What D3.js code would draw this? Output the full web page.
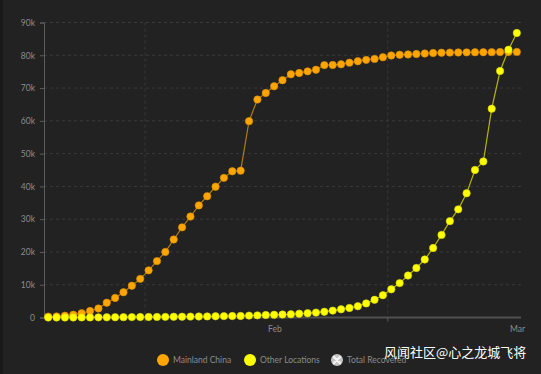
<!DOCTYPE html>
<html>
<head>
<meta charset="utf-8">
<script src="https://cdn.jsdelivr.net/npm/d3@7"></script>
<style>
  body { margin: 0; background: #222; }
  svg { display: block; }
</style>
</head>
<body>
<svg width="541" height="374"></svg>
<script>
// daily cumulative counts, 20 Jan 2020 .. 16 Mar 2020
const firstDay = new Date(Date.UTC(2020, 0, 20, 10));

const mainlandChina = [
  280, 330, 550, 830, 1290, 1980, 2740, 4520, 5970, 7710,
  9690, 11790, 14380, 17200, 20000, 23800, 27500, 30800, 34200, 37000,
  39900, 42600, 44600, 44800, 59900, 66500, 68500, 70550, 72400, 74200,
  74600, 75100, 75600, 77000, 77050, 77250, 77750, 78200, 78600, 78900,
  79400, 79930, 80140, 80260, 80390, 80540, 80690, 80770, 80820, 80860,
  80890, 80920, 80930, 80950, 80980, 81000, 81030
];

const otherLocations = [
  5, 7, 9, 15, 25, 35, 50, 60, 80, 100,
  120, 140, 160, 180, 200, 220, 250, 280, 300, 330,
  380, 420, 450, 480, 580, 660, 750, 820, 900, 980,
  1150, 1300, 1500, 1750, 2100, 2500, 2900, 3450, 4300, 5400,
  6800, 8600, 10500, 12800, 15100, 17700, 21200, 25200, 29400, 33000,
  37900, 45000, 47600, 63700, 75200, 81700, 86800
];

const yTicks = [0, 10000, 20000, 30000, 40000, 50000, 60000, 70000, 80000, 90000];
const monthStarts = [new Date(Date.UTC(2020, 1, 1)), new Date(Date.UTC(2020, 2, 1))];
const monthLabels = ["Feb", "Mar"];
const legendItems = ["Mainland China", "Other Locations", "Total Recovered"];

const dates = mainlandChina.map((_, i) => d3.utcDay.offset(firstDay, i));

const svg = d3.select("svg");
const font = "Lato, 'Noto Sans', sans-serif";

// left dark edge of the panel
svg.append("rect").attr("x", 0).attr("y", 0).attr("width", 3).attr("height", 374).attr("fill", "#181818");

const x = d3.scaleUtc()
  .domain([d3.utcHour.offset(dates[0], -12), d3.utcHour.offset(dates[dates.length - 1], 12)])
  .range([44, 521]);

const y = d3.scaleLinear().domain([0, 90000]).range([317.5, 22.5]);

// grid
svg.append("g").selectAll("line")
  .data(yTicks.slice(1))
  .join("line")
  .attr("x1", 44).attr("x2", 521)
  .attr("y1", d => y(d)).attr("y2", d => y(d))
  .attr("stroke", "#3a3a3a").attr("stroke-dasharray", "3,3");

svg.append("g").selectAll("line")
  .data(monthStarts)
  .join("line")
  .attr("x1", d => x(d)).attr("x2", d => x(d))
  .attr("y1", y(90000)).attr("y2", y(0))
  .attr("stroke", "#3a3a3a").attr("stroke-dasharray", "3,3");

// y axis
const yAxis = svg.append("g")
  .attr("transform", "translate(44,0)")
  .call(d3.axisLeft(y).tickValues(yTicks).tickSize(4).tickPadding(5)
    .tickFormat(d => d ? d / 1000 + "k" : "0"));
yAxis.select(".domain").attr("stroke", "#5c5c5c");
yAxis.selectAll(".tick line").attr("stroke", "#5c5c5c");
yAxis.selectAll("text").attr("fill", "#8c8c8c").attr("font-size", 8.5).attr("font-family", font);

// x axis
svg.append("line")
  .attr("x1", 44).attr("x2", 521).attr("y1", y(0)).attr("y2", y(0))
  .attr("stroke", "#505050").attr("stroke-width", 1.8);

svg.append("g").selectAll("line")
  .data(monthStarts)
  .join("line")
  .attr("x1", d => x(d)).attr("x2", d => x(d))
  .attr("y1", y(0)).attr("y2", y(0) + 4)
  .attr("stroke", "#5c5c5c");

svg.append("g").selectAll("text")
  .data(monthStarts)
  .join("text")
  .attr("x", d => x(d3.utcHour.offset(d, 372)))
  .attr("y", 332)
  .attr("text-anchor", "middle")
  .attr("fill", "#8c8c8c").attr("font-size", 8.5).attr("font-family", font)
  .text((d, i) => monthLabels[i]);

// series
const series = [
  { values: mainlandChina, line: "#b07c12", fill: "#ffa500", stroke: "#d98c00" },
  { values: otherLocations, line: "#b9b400", fill: "#ffff00", stroke: "#d4d400" }
];

const line = d3.line().x((d, i) => x(dates[i])).y(d => y(d));

series.forEach(s => {
  svg.append("path")
    .datum(s.values)
    .attr("d", line)
    .attr("fill", "none")
    .attr("stroke", s.line)
    .attr("stroke-width", 1.2);
  svg.append("g").selectAll("circle")
    .data(s.values)
    .join("circle")
    .attr("cx", (d, i) => x(dates[i]))
    .attr("cy", d => y(d))
    .attr("r", 3.7)
    .attr("fill", s.fill)
    .attr("stroke", s.stroke)
    .attr("stroke-width", 0.6);
});

// legend
const legendX = [163, 250, 337];
const legend = svg.append("g").selectAll("g")
  .data(legendItems)
  .join("g")
  .attr("transform", (d, i) => `translate(${legendX[i]},360)`);

legend.append("circle")
  .attr("r", 6)
  .attr("fill", (d, i) => ["#ffa500", "#ffff00", "#c4c4c4"][i]);

legend.filter((d, i) => i === 2).append("path")
  .attr("d", "M-3,-3L3,3M3,-3L-3,3")
  .attr("stroke", "#f4f4f4").attr("stroke-width", 2.2).attr("stroke-linecap", "round");

legend.append("text")
  .attr("x", 10)
  .attr("y", 3)
  .attr("fill", "#8c8c8c").attr("font-size", 8.5).attr("font-family", font)
  .text(d => d);

// watermark
svg.append("text")
  .attr("x", 384).attr("y", 357)
  .attr("fill", "#ffffff")
  .attr("font-size", 13)
  .attr("font-family", "'Noto Sans CJK SC', sans-serif")
  .text("风闻社区@心之龙城飞将");
</script>
</body>
</html>
